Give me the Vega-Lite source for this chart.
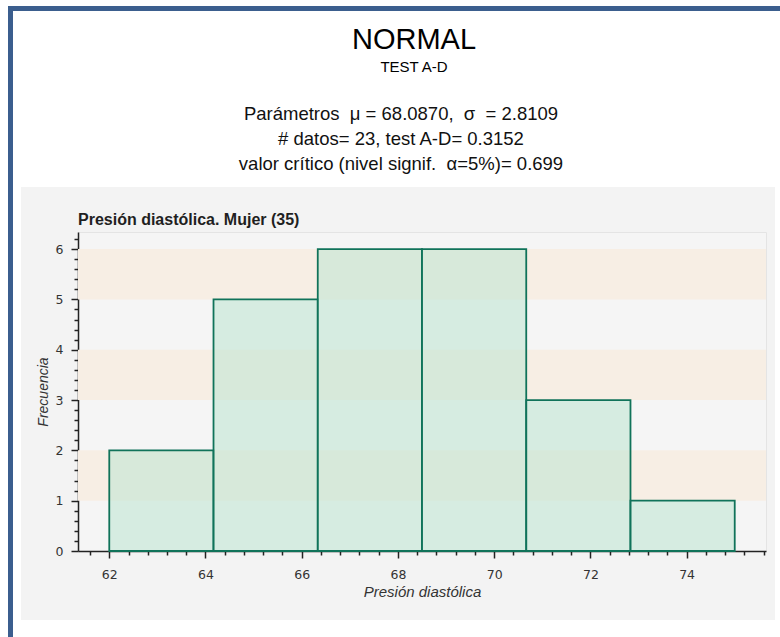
{
  "$schema": "https://vega.github.io/schema/vega-lite/v6.json",
  "background": "#f3f3f3",
  "padding": 0,
  "spacing": 0,
  "config": {"view": {"stroke": null}},
  "datasets": {
    "histograma": [
      {"desde": 62.0, "hasta": 64.1667, "frecuencia": 2},
      {"desde": 64.1667, "hasta": 66.3333, "frecuencia": 5},
      {"desde": 66.3333, "hasta": 68.5, "frecuencia": 6},
      {"desde": 68.5, "hasta": 70.6667, "frecuencia": 6},
      {"desde": 70.6667, "hasta": 72.8333, "frecuencia": 3},
      {"desde": 72.8333, "hasta": 75.0, "frecuencia": 1}
    ],
    "bandas": [
      {"desde": 1, "hasta": 2},
      {"desde": 3, "hasta": 4},
      {"desde": 5, "hasta": 6}
    ],
    "encabezado": [
      {"texto": "NORMAL", "nivel": "titulo"},
      {"texto": "TEST A-D", "nivel": "subtitulo"},
      {"texto": "Parámetros \u00a0μ = 68.0870, \u00a0σ \u00a0= 2.8109", "nivel": "parametros"},
      {"texto": "# datos= 23, test A-D= 0.3152", "nivel": "parametros"},
      {"texto": "valor crítico (nivel signif. \u00a0α=5%)= 0.699", "nivel": "parametros"}
    ]
  },
  "hconcat": [
    {"width": 8, "height": 637, "data": {"values": []}, "mark": "rect", "encoding": {}, "view": {"fill": "#ffffff", "stroke": null}},
    {
      "spacing": 0,
      "vconcat": [
        {"width": 5, "height": 6, "data": {"values": []}, "mark": "rect", "encoding": {}, "view": {"fill": "#ffffff", "stroke": null}},
        {"width": 5, "height": 631, "data": {"values": []}, "mark": "rect", "encoding": {}, "view": {"fill": "#3b5e8e", "stroke": null}}
      ]
    },
    {
      "spacing": 0,
      "vconcat": [
        {"width": 8, "height": 6, "data": {"values": []}, "mark": "rect", "encoding": {}, "view": {"fill": "#ffffff", "stroke": null}},
        {"width": 8, "height": 5, "data": {"values": []}, "mark": "rect", "encoding": {}, "view": {"fill": "#3b5e8e", "stroke": null}},
        {"width": 8, "height": 626, "data": {"values": []}, "mark": "rect", "encoding": {}, "view": {"fill": "#ffffff", "stroke": null}}
      ]
    },
    {
      "spacing": 0,
      "vconcat": [
        {"width": 754, "height": 6, "data": {"values": []}, "mark": "rect", "encoding": {}, "view": {"fill": "#ffffff", "stroke": null}},
        {"width": 754, "height": 5, "data": {"values": []}, "mark": "rect", "encoding": {}, "view": {"fill": "#3b5e8e", "stroke": null}},
        {
          "width": 754,
          "height": 176,
          "view": {"fill": "#ffffff", "stroke": null},
          "data": {"name": "encabezado"},
          "encoding": {
            "y": {
              "field": "texto",
              "type": "nominal",
              "axis": null,
              "scale": {
                "type": "point",
                "domain": ["NORMAL", "TEST A-D", " ", "Parámetros \u00a0μ = 68.0870, \u00a0σ \u00a0= 2.8109", "# datos= 23, test A-D= 0.3152", "valor crítico (nivel signif. \u00a0α=5%)= 0.699"],
                "padding": 1.107,
                "align": 0.54
              }
            }
          },
          "layer": [
            {
              "transform": [{"filter": "datum.nivel == 'titulo'"}],
              "mark": {"type": "text", "font": "Liberation Sans", "fontSize": 29, "color": "#000000", "dx": 16, "dy": 2},
              "encoding": {"text": {"field": "texto"}}
            },
            {
              "transform": [{"filter": "datum.nivel == 'subtitulo'"}],
              "mark": {"type": "text", "font": "Liberation Sans", "fontSize": 15, "color": "#000000", "dx": 16, "dy": 4},
              "encoding": {"text": {"field": "texto"}}
            },
            {
              "transform": [{"filter": "datum.nivel == 'parametros'"}],
              "mark": {"type": "text", "font": "Liberation Sans", "fontSize": 18.5, "color": "#111111", "dx": 3},
              "encoding": {"text": {"field": "texto"}}
            }
          ]
        },
        {"width": 754, "height": 24, "data": {"values": []}, "mark": "rect", "encoding": {}},
        {
          "spacing": 0,
          "hconcat": [
            {"width": 14, "height": 10, "data": {"values": []}, "mark": "rect", "encoding": {}},
            {
              "width": 688,
              "height": 319,
              "view": {"fill": "#f5f5f5", "stroke": "#e4e4e4"},
              "title": {"text": "Presión diastólica. Mujer (35)", "anchor": "start", "frame": "group", "font": "Liberation Sans", "fontSize": 16, "fontWeight": "bold", "color": "#1f1f1f", "offset": 4},
              "layer": [
                {
                  "data": {"name": "bandas"},
                  "mark": {"type": "rect", "color": "#f7eee4"},
                  "encoding": {
                    "y": {
                      "field": "desde", "type": "quantitative",
                      "scale": {"domain": [0, 6.34], "nice": false},
                      "axis": {
                        "title": "Frecuencia", "titleFont": "Liberation Sans", "titleFontStyle": "italic", "titleFontWeight": "normal", "titleFontSize": 14, "titleColor": "#333333", "titlePadding": 5,
                        "values": [0,0.2,0.4,0.6,0.8,1,1.2,1.4,1.6,1.8,2,2.2,2.4,2.6,2.8,3,3.2,3.4,3.6,3.8,4,4.2,4.4,4.6,4.8,5,5.2,5.4,5.6,5.8,6,6.2],
                        "labelExpr": "abs(datum.value - round(datum.value)) < 0.001 ? format(datum.value, 'd') : ''",
                        "labelOverlap": false, "labelFlush": false,
                        "labelFont": "DejaVu Sans", "labelFontSize": 12.5, "labelColor": "#333333", "labelPadding": 8,
                        "tickSize": {"condition": {"test": "abs(datum.value - round(datum.value)) < 0.001", "value": 7}, "value": 4},
                        "tickColor": "#222222", "tickWidth": 1.5, "domainColor": "#222222", "domainWidth": 1.5, "grid": false
                      }
                    },
                    "y2": {"field": "hasta"}
                  }
                },
                {
                  "data": {"name": "histograma"},
                  "mark": {"type": "bar", "fill": "#c2e6d3", "fillOpacity": 0.6, "stroke": "#10735a", "strokeWidth": 1.8},
                  "encoding": {
                    "x": {
                      "field": "desde", "type": "quantitative",
                      "scale": {"domain": [61.35, 75.65], "nice": false, "zero": false},
                      "axis": {
                        "title": "Presión diastólica", "titleFont": "Liberation Sans", "titleFontStyle": "italic", "titleFontWeight": "normal", "titleFontSize": 15, "titleColor": "#333333", "titlePadding": 4,
                        "values": [61.6,62,62.4,62.8,63.2,63.6,64,64.4,64.8,65.2,65.6,66,66.4,66.8,67.2,67.6,68,68.4,68.8,69.2,69.6,70,70.4,70.8,71.2,71.6,72,72.4,72.8,73.2,73.6,74,74.4,74.8,75.2,75.6],
                        "labelExpr": "abs(datum.value / 2 - round(datum.value / 2)) < 0.001 ? format(datum.value, 'd') : ''",
                        "labelOverlap": false, "labelFlush": false,
                        "labelFont": "DejaVu Sans", "labelFontSize": 12.5, "labelColor": "#333333", "labelPadding": 10,
                        "tickSize": {"condition": {"test": "abs(datum.value / 2 - round(datum.value / 2)) < 0.001", "value": 7}, "value": 4},
                        "tickColor": "#222222", "tickWidth": 1.5, "domainColor": "#222222", "domainWidth": 1.5, "grid": false
                      }
                    },
                    "x2": {"field": "hasta"},
                    "y": {
                      "field": "frecuencia", "type": "quantitative",
                      "scale": {"domain": [0, 6.34], "nice": false},
                      "axis": {
                        "title": "Frecuencia", "titleFont": "Liberation Sans", "titleFontStyle": "italic", "titleFontWeight": "normal", "titleFontSize": 14, "titleColor": "#333333", "titlePadding": 5,
                        "values": [0,0.2,0.4,0.6,0.8,1,1.2,1.4,1.6,1.8,2,2.2,2.4,2.6,2.8,3,3.2,3.4,3.6,3.8,4,4.2,4.4,4.6,4.8,5,5.2,5.4,5.6,5.8,6,6.2],
                        "labelExpr": "abs(datum.value - round(datum.value)) < 0.001 ? format(datum.value, 'd') : ''",
                        "labelOverlap": false, "labelFlush": false,
                        "labelFont": "DejaVu Sans", "labelFontSize": 12.5, "labelColor": "#333333", "labelPadding": 8,
                        "tickSize": {"condition": {"test": "abs(datum.value - round(datum.value)) < 0.001", "value": 7}, "value": 4},
                        "tickColor": "#222222", "tickWidth": 1.5, "domainColor": "#222222", "domainWidth": 1.5, "grid": false
                      }
                    },
                    "y2": {"datum": 0}
                  }
                }
              ]
            }
          ]
        },
        {"width": 754, "height": 20, "data": {"values": []}, "mark": "rect", "encoding": {}},
        {"width": 754, "height": 20, "data": {"values": []}, "mark": "rect", "encoding": {}, "view": {"fill": "#ffffff", "stroke": null}}
      ]
    },
    {
      "spacing": 0,
      "vconcat": [
        {"width": 5, "height": 6, "data": {"values": []}, "mark": "rect", "encoding": {}, "view": {"fill": "#ffffff", "stroke": null}},
        {"width": 5, "height": 5, "data": {"values": []}, "mark": "rect", "encoding": {}, "view": {"fill": "#3b5e8e", "stroke": null}},
        {"width": 5, "height": 626, "data": {"values": []}, "mark": "rect", "encoding": {}, "view": {"fill": "#ffffff", "stroke": null}}
      ]
    }
  ]
}
